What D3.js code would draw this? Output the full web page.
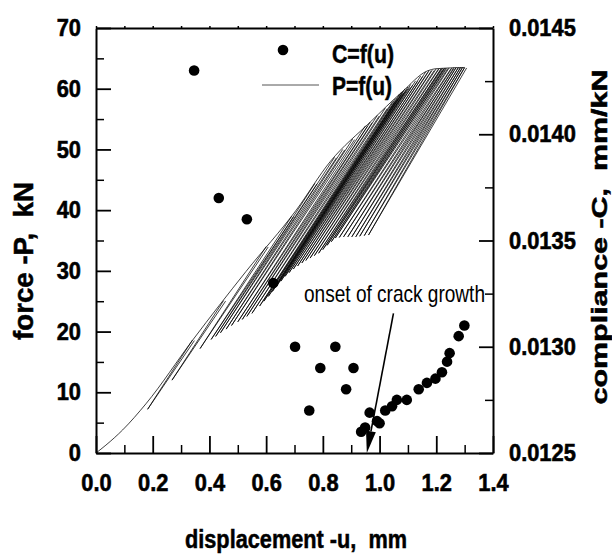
<!DOCTYPE html>
<html>
<head>
<meta charset="utf-8">
<script src="https://cdnjs.cloudflare.com/ajax/libs/d3/7.8.5/d3.min.js"></script>
<style>
  body { margin: 0; background: #fff; }
  svg text { font-family: "Liberation Sans", Arial, sans-serif; fill: #000; }
  .title { font-weight: bold; white-space: pre; stroke: #000; stroke-width: 0.5px; }
</style>
</head>
<body>
<div id="chart"></div>
<script>
// P=f(u): first loading curve / upper envelope (u in mm, P in kN)
const envU = [0, 0.035, 0.094, 0.176, 0.341, 0.529, 0.706, 0.826, 0.967, 1.08, 1.167, 1.2, 1.3];
const envP = [0, 1.3, 3.8, 8.1, 18.6, 29.9, 40.0, 48.0, 54.5, 59.5, 62.9, 63.3, 63.5];

// P=f(u): unload/reload cycles, lowest point and peak of each
const cycleLowU = [0.182, 0.268, 0.367, 0.406, 0.422, 0.439, 0.459, 0.478, 0.50, 0.516,
  0.532, 0.55, 0.577, 0.592, 0.608, 0.622, 0.637, 0.652, 0.667, 0.681,
  0.696, 0.711, 0.726, 0.740, 0.755, 0.770, 0.785, 0.800, 0.815, 0.830,
  0.844, 0.858, 0.873, 0.888, 0.902, 0.916, 0.93, 0.946, 0.961];
const cycleLowP = [7.2, 12.0, 17.2, 18.7, 19.2, 19.8, 20.4, 21.0, 21.6, 22.0,
  22.5, 23.0, 24.2, 25.0, 25.8, 26.6, 27.5, 28.3, 29.1, 29.7,
  30.3, 30.8, 31.3, 31.7, 32.1, 32.5, 32.9, 33.5, 34.2, 34.8,
  35.4, 35.5, 35.6, 35.6, 35.6, 35.6, 35.7, 35.8, 35.9];
const cyclePeakU = [0.34, 0.45, 0.60, 0.69, 0.772, 0.841, 0.87, 0.905, 0.95, 0.967,
  0.992, 1.02, 1.046, 1.056, 1.07, 1.077, 1.083, 1.09, 1.10, 1.11,
  1.127, 1.145, 1.163, 1.175, 1.186, 1.20, 1.21, 1.217, 1.222, 1.229,
  1.234, 1.245, 1.255, 1.262, 1.27, 1.278, 1.285, 1.292, 1.30];
const cyclePeakP = [18.6, 25.1, 34.0, 39.0, 44.4, 48.7, 50.0, 51.7, 53.9, 54.5,
  55.6, 56.8, 57.9, 58.4, 59.1, 59.4, 59.6, 60.0, 60.3, 60.7,
  61.3, 62.1, 62.8, 63.0, 63.1, 63.3, 63.3, 63.3, 63.4, 63.4,
  63.4, 63.4, 63.4, 63.5, 63.5, 63.5, 63.5, 63.5, 63.5];

// C=f(u): compliance points (u in mm, C in mm/kN)
const complU = [0.346, 0.433, 0.532, 0.625, 0.702, 0.752, 0.791, 0.844, 0.882, 0.908,
  0.935, 0.949, 0.965, 0.991, 1.0, 1.02, 1.044, 1.061, 1.096, 1.138,
  1.167, 1.197, 1.22, 1.238, 1.247, 1.279, 1.299];
const complC = [0.01430, 0.01370, 0.01360, 0.01330, 0.01300, 0.01270, 0.01290, 0.01300, 0.01280, 0.01290,
  0.01260, 0.01262, 0.01269, 0.01265, 0.01264, 0.01270, 0.01272, 0.01275, 0.01275, 0.01280,
  0.01283, 0.01285, 0.01288, 0.01293, 0.01297, 0.01305, 0.01310];

const forceTicks = [0, 10, 20, 30, 40, 50, 60, 70];
const forceMinor = [5, 15, 25, 35, 45, 55, 65];
const dispTicks = [0, 0.2, 0.4, 0.6, 0.8, 1.0, 1.2, 1.4];
const dispMinor = [0.1, 0.3, 0.5, 0.7, 0.9, 1.1, 1.3];
const complTicks = [0.0125, 0.0130, 0.0135, 0.0140, 0.0145];
const complMinor = [0.01275, 0.01325, 0.01375, 0.01425];

// arrow "onset of crack growth": from / to in (u, P)
const arrowFrom = [1.049, 23.0];
const arrowTo = [0.955, 0.0];

function renderChart() {
    const width = 612, height = 554;
    const margin = { top: 28, right: 119, bottom: 101, left: 96 };
    const labelSize = 24;

    const svg = d3.select("#chart")
        .html("")
        .append("svg")
        .attr("width", width)
        .attr("height", height);

    const x = d3.scaleLinear().domain([0, 1.4]).range([margin.left, width - margin.right]);
    const yP = d3.scaleLinear().domain([0, 70]).range([height - margin.bottom, margin.top]);
    const yC = d3.scaleLinear().domain([0.0125, 0.0145]).range([height - margin.bottom, margin.top]);

    const x0 = margin.left, x1 = width - margin.right;
    const y0 = height - margin.bottom, y1 = margin.top;

    // load trace: envelope + hysteresis cycles
    const trace = svg.append("g")
        .attr("fill", "none")
        .attr("stroke", "#000")
        .attr("stroke-width", 0.75)
        .attr("stroke-linejoin", "round");

    trace.append("path")
        .attr("d", d3.line().curve(d3.curveMonotoneX)
            .x(i => x(envU[i])).y(i => yP(envP[i]))(d3.range(envU.length)));

    const loopGap = 2; // px between unloading and reloading branch at the peak
    trace.selectAll(".cycle")
        .data(d3.range(cycleLowU.length))
        .enter()
        .append("path")
        .attr("class", "cycle")
        .attr("d", i => {
            const px = x(cyclePeakU[i]), py = yP(cyclePeakP[i]);
            const lx = x(cycleLowU[i]), ly = yP(cycleLowP[i]);
            return `M${px},${py}L${lx},${ly}L${px + loopGap},${py + 0.5}`;
        });

    // compliance points
    svg.selectAll(".c-dot")
        .data(d3.range(complU.length))
        .enter()
        .append("circle")
        .attr("class", "c-dot")
        .attr("cx", i => x(complU[i]))
        .attr("cy", i => yC(complC[i]))
        .attr("r", 5.3)
        .attr("fill", "#000");

    // condensed bold digits, like the original's labels
    const labelWidth = s => labelSize * 0.91 *
        s.split("").reduce((a, c) => a + (c === "." ? 0.278 : 0.556), 0);

    const styleAxis = (g, w) => {
        g.selectAll("line").attr("stroke", "#000").attr("stroke-width", w);
        g.select(".domain").attr("stroke", "#000").attr("stroke-width", 2);
        g.selectAll("text")
            .attr("fill", "#000")
            .attr("stroke", "#000")
            .attr("stroke-width", 0.6)
            .attr("font-family", '"Liberation Sans", Arial, sans-serif')
            .attr("font-size", labelSize)
            .attr("font-weight", "bold")
            .style("font-size", labelSize + "px")
            .style("font-weight", "bold")
            .each(function () {
                const s = this.textContent;
                if (s) {
                    d3.select(this)
                        .attr("textLength", labelWidth(s))
                        .attr("lengthAdjust", "spacingAndGlyphs");
                }
            });
    };

    svg.append("g")
        .attr("transform", `translate(0,${y0})`)
        .call(d3.axisBottom(x).tickValues(dispTicks).tickSize(-17).tickSizeOuter(0)
            .tickPadding(21).tickFormat(d3.format(".1f")))
        .call(g => styleAxis(g, 1.8));
    svg.append("g")
        .attr("transform", `translate(0,${y0})`)
        .call(d3.axisBottom(x).tickValues(dispMinor).tickSize(-8).tickFormat(""))
        .call(g => { g.select(".domain").remove(); styleAxis(g, 1.5); });

    svg.append("g")
        .attr("transform", `translate(0,${y1})`)
        .call(d3.axisTop(x).tickValues(dispTicks.concat(dispMinor)).tickSize(2).tickSizeOuter(0).tickFormat(""))
        .call(g => styleAxis(g, 1.5));

    svg.append("g")
        .attr("transform", `translate(${x0},0)`)
        .call(d3.axisLeft(yP).tickValues(forceTicks).tickSize(-15).tickSizeOuter(0)
            .tickPadding(15).tickFormat(d3.format("d")))
        .call(g => styleAxis(g, 1.8));
    svg.append("g")
        .attr("transform", `translate(${x0},0)`)
        .call(d3.axisLeft(yP).tickValues(forceMinor).tickSize(-8).tickFormat(""))
        .call(g => { g.select(".domain").remove(); styleAxis(g, 1.5); });

    svg.append("g")
        .attr("transform", `translate(${x1},0)`)
        .call(d3.axisRight(yC).tickValues(complTicks).tickSize(-14).tickSizeOuter(0)
            .tickPadding(16).tickFormat(d3.format(".4f")))
        .call(g => styleAxis(g, 1.8));
    svg.append("g")
        .attr("transform", `translate(${x1},0)`)
        .call(d3.axisRight(yC).tickValues(complMinor).tickSize(-8).tickFormat(""))
        .call(g => { g.select(".domain").remove(); styleAxis(g, 1.5); });

    // axis titles
    svg.append("text")
        .attr("class", "title")
        .attr("x", 296)
        .attr("y", 548)
        .attr("text-anchor", "middle")
        .attr("font-size", 25)
        .attr("textLength", 222)
        .attr("lengthAdjust", "spacingAndGlyphs")
        .text("displacement -u,  mm");

    svg.append("text")
        .attr("class", "title")
        .attr("transform", "translate(33,261) rotate(-90)")
        .attr("text-anchor", "middle")
        .attr("font-size", 27)
        .attr("textLength", 158)
        .attr("lengthAdjust", "spacingAndGlyphs")
        .text("force -P,  kN");

    svg.append("text")
        .attr("class", "title")
        .attr("transform", "translate(607,237) rotate(-90)")
        .attr("text-anchor", "middle")
        .attr("font-size", 22)
        .attr("textLength", 335)
        .attr("lengthAdjust", "spacingAndGlyphs")
        .text("compliance -C,  mm/kN");

    // legend
    const legend = svg.append("g").attr("transform", "translate(262,0)");
    legend.append("circle")
        .attr("cx", 21)
        .attr("cy", 50)
        .attr("r", 5.3)
        .attr("fill", "#000");
    legend.append("line")
        .attr("x1", 0).attr("x2", 57)
        .attr("y1", 85).attr("y2", 85)
        .attr("stroke", "#555")
        .attr("stroke-width", 1);
    legend.append("text")
        .attr("class", "title")
        .attr("x", 70).attr("y", 63)
        .attr("font-size", 26)
        .attr("textLength", 62)
        .attr("lengthAdjust", "spacingAndGlyphs")
        .text("C=f(u)");
    legend.append("text")
        .attr("class", "title")
        .attr("x", 70).attr("y", 95)
        .attr("font-size", 26)
        .attr("textLength", 60)
        .attr("lengthAdjust", "spacingAndGlyphs")
        .text("P=f(u)");

    // annotation
    svg.append("text")
        .attr("x", 304)
        .attr("y", 302)
        .attr("font-size", 24)
        .attr("textLength", 181)
        .attr("lengthAdjust", "spacingAndGlyphs")
        .text("onset of crack growth");

    const ax0 = x(arrowFrom[0]), ay0 = yP(arrowFrom[1]);
    const ax1 = x(arrowTo[0]), ay1 = yP(arrowTo[1]);
    const len = Math.hypot(ax1 - ax0, ay1 - ay0);
    const ux = (ax1 - ax0) / len, uy = (ay1 - ay0) / len;
    const headLen = 22, headHalf = 5;
    const bx = ax1 - ux * headLen, by = ay1 - uy * headLen;
    svg.append("line")
        .attr("x1", ax0).attr("y1", ay0)
        .attr("x2", bx).attr("y2", by)
        .attr("stroke", "#000")
        .attr("stroke-width", 1.6);
    svg.append("path")
        .attr("d", `M${ax1},${ay1}L${bx - uy * headHalf},${by + ux * headHalf}L${bx + uy * headHalf},${by - ux * headHalf}Z`)
        .attr("fill", "#000");
}

renderChart();
</script>
</body>
</html>
